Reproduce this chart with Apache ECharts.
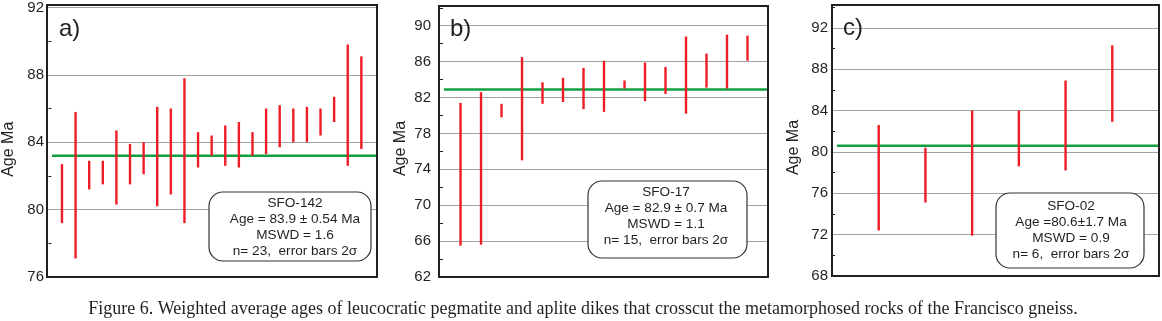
<!DOCTYPE html>
<html>
<head>
<meta charset="utf-8">
<script src="https://cdn.jsdelivr.net/npm/echarts@6/dist/echarts.min.js"></script>
<style>
  html, body { margin: 0; padding: 0; background: #fff; }
  #chart { width: 1162px; height: 321px; }
</style>
</head>
<body>
<div id="chart"></div>
<script>
// weighted average ages (Ma, 2 sigma error bars)
var highA = [82.7, 85.8, 82.9, 82.9, 84.7, 83.9, 84.0, 86.1, 86.0, 87.8, 84.6, 84.4,
             85.0, 85.2, 84.6, 86.0, 86.2, 86.0, 86.1, 86.0, 86.7, 89.8, 89.1];
var lowA  = [79.2, 77.1, 81.2, 81.5, 80.3, 81.5, 82.1, 80.2, 80.9, 79.2, 82.5, 83.2,
             82.6, 82.5, 83.2, 83.3, 83.7, 84.0, 84.0, 84.4, 85.2, 82.6, 83.6];
var highB = [81.4, 82.6, 81.3, 86.5, 83.7, 84.2, 85.3, 86.1, 83.9, 85.9, 85.4, 88.8, 86.9, 89.0, 88.9];
var lowB  = [65.5, 65.6, 79.8, 75.0, 81.3, 81.5, 80.7, 80.4, 83.0, 81.6, 82.4, 80.2, 83.1, 83.0, 86.1];
var highC = [82.6, 80.4, 84.0, 84.0, 86.9, 90.3];
var lowC  = [72.4, 75.1, 71.9, 78.6, 78.2, 82.9];

var meanAges = [83.2, 82.9, 80.6];
var panelTags = ['a)', 'b)', 'c)'];
var boxTexts = [
  ['SFO-142', 'Age = 83.9 \u00b1 0.54 Ma', 'MSWD = 1.6', 'n= 23,  error bars 2\u03c3'],
  ['SFO-17', 'Age = 82.9 \u00b1 0.7 Ma', 'MSWD = 1.1', 'n= 15,  error bars 2\u03c3'],
  ['SFO-02', 'Age =80.6\u00b11.7 Ma', 'MSWD = 0.9', 'n= 6,  error bars 2\u03c3']
];
var caption = 'Figure 6. Weighted average ages of leucocratic pegmatite and aplite dikes that crosscut the metamorphosed rocks of the Francisco gneiss.';

var myChart = echarts.init(document.getElementById('chart'));

var ink = '#231f20';
var red = '#ee1d25';
var green = '#12a03f';

// layout for each panel
var panels = [
  { high: highA, low: lowA, grid: {left: 47, top: 5, width: 330, height: 272},
    x: [-0.1, 24.15], y: [76, 92], margin: 3, tag: [59, 31],
    box: [209, 192, 162, 69], textPos: [295, 227] },
  { high: highB, low: lowB, grid: {left: 439, top: 6, width: 329, height: 271},
    x: [-0.05, 16], y: [62, 92.2], margin: 8, tag: [450, 31],
    box: [588, 181, 159, 77], textPos: [666, 216] },
  { high: highC, low: lowC, grid: {left: 832, top: 5, width: 327, height: 271},
    x: [0, 7], y: [68, 94.2], margin: 4, tag: [843, 30],
    box: [996, 193, 148, 75], textPos: [1071, 230] }
];

function renderBar(params, api) {
  var top = api.coord([api.value(0), api.value(2)]);
  var bot = api.coord([api.value(0), api.value(1)]);
  return {
    type: 'rect',
    shape: {x: top[0] - 1.2, y: top[1], width: 2.4, height: bot[1] - top[1]},
    style: {fill: red}
  };
}

var grids = [], xAxes = [], yAxes = [], series = [], graphics = [];

panels.forEach(function (p, i) {
  grids.push(Object.assign({show: false}, p.grid));
  xAxes.push({
    gridIndex: i, type: 'value', min: p.x[0], max: p.x[1],
    axisLine: {show: false}, axisTick: {show: false}, axisLabel: {show: false}, splitLine: {show: false}
  });
  yAxes.push({
    gridIndex: i, type: 'value', min: p.y[0], max: p.y[1], interval: 4,
    name: 'Age Ma', nameLocation: 'middle', nameGap: 30,
    nameTextStyle: {fontFamily: 'Liberation Sans', fontSize: 16, color: ink, padding: [0, 14, 0, 0]},
    axisLine: {show: false},
    axisTick: {show: false, inside: true},
    minorTick: {show: true, splitNumber: 2, length: 3, lineStyle: {color: ink, width: 1}},
    axisLabel: {
      fontFamily: 'Liberation Sans', fontSize: 15, color: ink, margin: p.margin,
      formatter: function (v) { return (v - p.y[0]) % 4 === 0 ? String(v) : ''; }
    },
    splitLine: {show: true, lineStyle: {color: '#a3a3a3', width: 1}}
  });

  var data = p.high.map(function (h, k) { return [k + 1, p.low[k], h]; });
  series.push({
    type: 'line', xAxisIndex: i, yAxisIndex: i, symbol: 'none', z: 2,
    lineStyle: {color: green, width: 2.5},
    data: [[p.x[0] + (p.x[1] - p.x[0]) * 0.015, meanAges[i]], [p.x[1], meanAges[i]]]
  });
  series.push({
    type: 'custom', xAxisIndex: i, yAxisIndex: i, z: 3,
    renderItem: renderBar, encode: {x: 0, y: [1, 2]}, data: data
  });

  // black frame round the plot, on top of the grid lines
  graphics.push({
    type: 'rect', z: 8, silent: true,
    shape: {x: p.grid.left, y: p.grid.top, width: p.grid.width, height: p.grid.height},
    style: {fill: null, stroke: ink, lineWidth: 2}
  });
  graphics.push({
    type: 'text', left: p.tag[0], top: p.tag[1] - 14, z: 10,
    style: {text: panelTags[i], font: '24px "Liberation Sans"', fill: ink}
  });
  graphics.push({
    type: 'rect', z: 10,
    shape: {x: p.box[0], y: p.box[1], width: p.box[2], height: p.box[3], r: 14},
    style: {fill: '#fff', stroke: '#333', lineWidth: 1.2}
  });
  graphics.push({
    type: 'text', z: 11, x: p.textPos[0], y: p.textPos[1],
    style: {
      x: 0, y: 0,
      text: boxTexts[i].join('\n'), font: '13.6px "Liberation Sans"', fill: ink,
      align: 'center', verticalAlign: 'middle', lineHeight: 16
    }
  });
});

graphics.push({
  type: 'text', z: 10, x: 583, y: 309,
  style: {text: caption, font: '18px "Liberation Serif"', fill: ink, align: 'center', verticalAlign: 'middle'}
});

var option = {
  animation: false,
  backgroundColor: '#fff',
  grid: grids,
  xAxis: xAxes,
  yAxis: yAxes,
  series: series,
  graphic: graphics
};

myChart.setOption(option);
</script>
</body>
</html>
